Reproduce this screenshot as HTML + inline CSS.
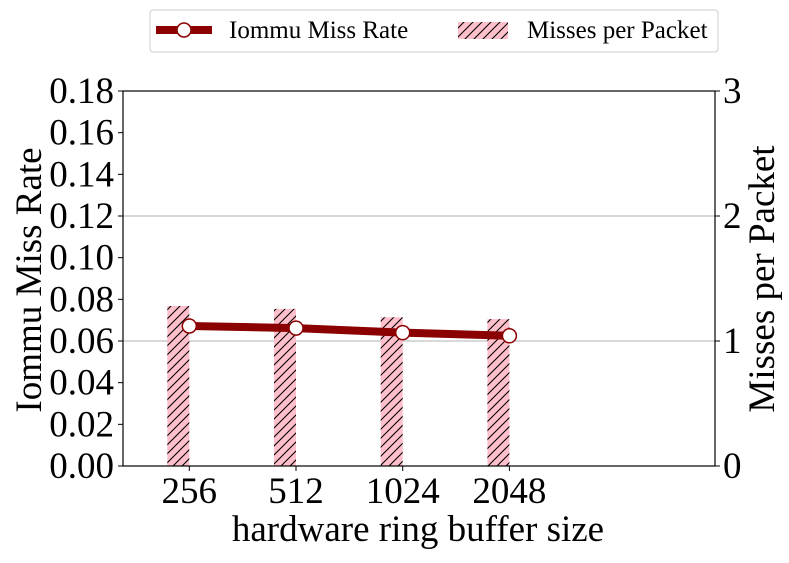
<!DOCTYPE html>
<html><head><meta charset="utf-8"><style>
body{margin:0;background:#fff}
svg text{font-family:"Liberation Serif",serif;fill:#000}
</style></head><body>
<svg id="c" width="789" height="558">
<defs><pattern id="hatch" width="9" height="9" patternUnits="userSpaceOnUse">
<rect width="9" height="9" fill="#ffc0cb"/><path d="M-1,10 L10,-1 M-5,5 L5,-5 M4,14 L14,4" stroke="#000" stroke-width="1.1"/></pattern></defs>
<g id="plot"></g>
</svg>
<script>
const categories=["256","512","1024","2048"];
const missRate=[0.0672,0.0662,0.0640,0.0625];
const missesPerPacket=[1.28,1.257,1.19,1.175];
const leftTicks=["0.00","0.02","0.04","0.06","0.08","0.10","0.12","0.14","0.16","0.18"];
const rightTicks=[0,1,2,3];
const NS="http://www.w3.org/2000/svg";
const L=123,R=715,T=91,B=466;
const FS=37;
const yL=v=>B-(v/0.18)*(B-T);
const yR=v=>B-(v/3)*(B-T);
const xC=i=>189.3+i*106.7;
const g=document.getElementById('plot');
function el(t,a,p){const e=document.createElementNS(NS,t);for(const k in a)e.setAttribute(k,a[k]);(p||g).appendChild(e);return e;}
rightTicks.forEach(v=>{if(v>0&&v<3){const l=el('line',{x1:L,x2:R,y1:yR(v),y2:yR(v),stroke:'#b0b0b0','stroke-width':1});

}});
missesPerPacket.forEach((v,i)=>{const r=el('rect',{x:xC(i)-22,y:yR(v),width:22,height:B-yR(v),fill:'url(#hatch)'});

});
const pl=el('polyline',{points:missRate.map((v,i)=>xC(i)+','+yL(v)).join(' '),fill:'none',stroke:'#8b0000','stroke-width':8});


missRate.forEach((v,i)=>{const c=el('circle',{cx:xC(i),cy:yL(v),r:7,fill:'#fff',stroke:'#8b0000','stroke-width':1.5});

});
const f=el('rect',{x:L,y:T,width:R-L,height:B-T,fill:'none',stroke:'#000','stroke-width':1.2});


leftTicks.forEach((s,i)=>{const y=yL(+s);el('line',{x1:L-5,x2:L,y1:y,y2:y,stroke:'#000'});
const t=el('text',{x:L-9,y:y+12,'text-anchor':'end','font-size':FS});t.textContent=s;

});
rightTicks.forEach(v=>{const y=yR(v);el('line',{x1:R,x2:R+5,y1:y,y2:y,stroke:'#000'});
const t=el('text',{x:R+8,y:y+12,'font-size':FS});t.textContent=v;

});
categories.forEach((s,i)=>{el('line',{x1:xC(i),x2:xC(i),y1:B,y2:B+5,stroke:'#000'});
const t=el('text',{x:xC(i),y:503,'text-anchor':'middle','font-size':FS});t.textContent=s;

});
let t=el('text',{x:418,y:541,'text-anchor':'middle','font-size':FS});t.textContent='hardware ring buffer size';


t=el('text',{x:0,y:0,'text-anchor':'middle','font-size':FS,transform:'translate(41,280) rotate(-90)'});t.textContent='Iommu Miss Rate';


t=el('text',{x:0,y:0,'text-anchor':'middle','font-size':FS,transform:'translate(774,279) rotate(-90)'});t.textContent='Misses per Packet';


const lg=el('g',{});


el('rect',{x:150,y:10,width:568,height:42,fill:'#fff',stroke:'#ccc',rx:3},lg);
el('line',{x1:156,x2:212,y1:30,y2:30,stroke:'#8b0000','stroke-width':8},lg);
el('circle',{cx:184,cy:30,r:7,fill:'#fff',stroke:'#8b0000','stroke-width':1.5},lg);
t=el('text',{x:229,y:38,'font-size':25},lg);t.textContent='Iommu Miss Rate';


el('rect',{x:458,y:22,width:50,height:17,fill:'url(#hatch)'},lg);
t=el('text',{x:527,y:38,'font-size':25},lg);t.textContent='Misses per Packet';


</script>
</body></html>
